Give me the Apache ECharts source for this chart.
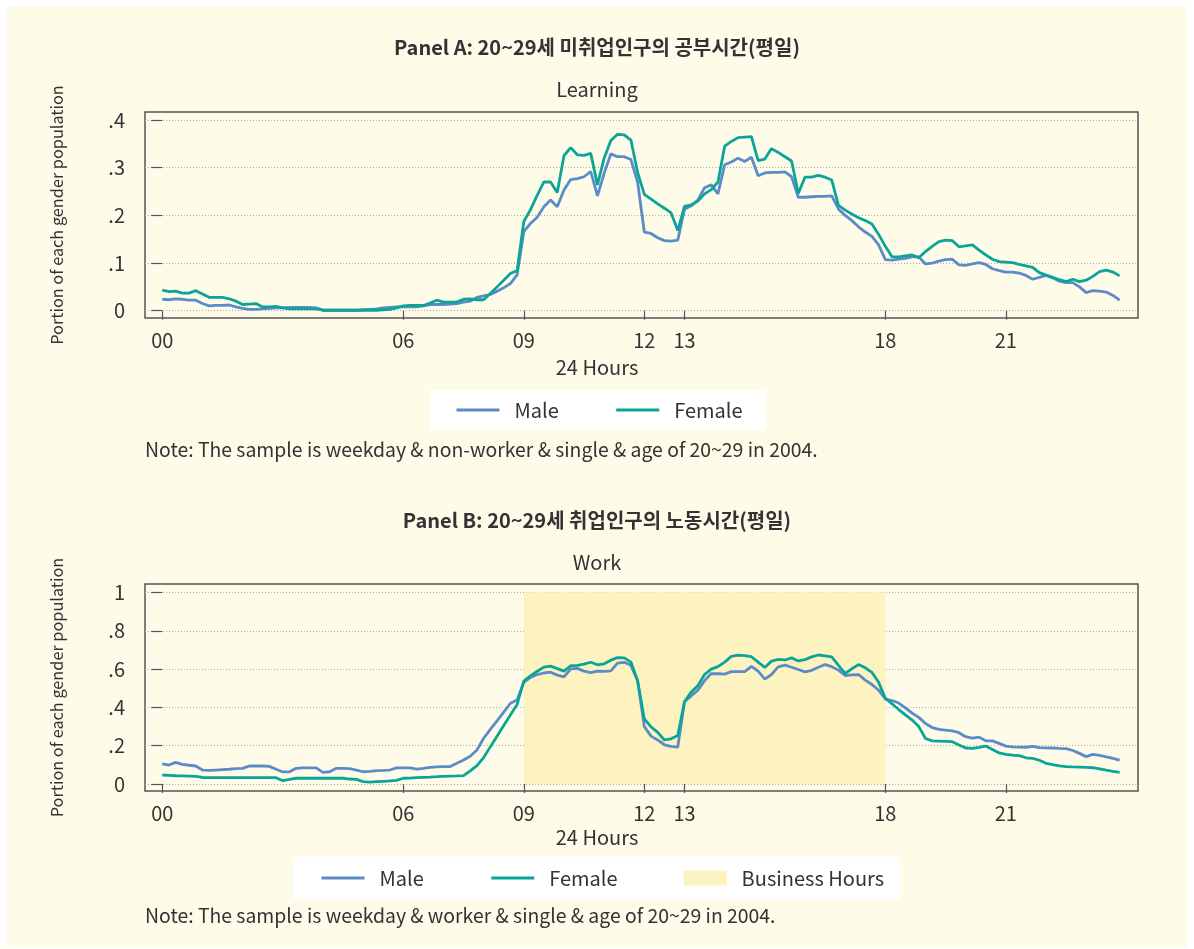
<!DOCTYPE html>
<html>
<head>
<meta charset="utf-8">
<script src="https://cdn.jsdelivr.net/npm/echarts@6/dist/echarts.min.js"></script>
<style>
  html, body { margin: 0; padding: 0; background: #fff; }
  #main { width: 1194px; height: 949px; }
</style>
</head>
<body>
<div id="main"></div>
<script>
// 10-minute time-use slots, 00:00 .. 23:50 (in hours)
const slots = []
for (let i = 0; i < 144; i++) slots.push(i / 6)

const hourTicks = [0, 6, 9, 12, 13, 18, 21]
const learnTicks = [0, 0.1, 0.2, 0.3, 0.4]
const workTicks = [0, 0.2, 0.4, 0.6, 0.8, 1]
const businessHours = [9, 18]

// Panel A: learning, 20~29 non-worker
const learnMale = [
  .024, .023, .025, .024, .022, .022,
  .015, .010, .011, .011, .012, .008,
  .005, .003, .003, .004, .005, .006,
  .006, .007, .007, .007, .007, .006,
  .001, .001, .001, .001, .001, .001,
  .002, .003, .004, .006, .007, .008,
  .008, .008, .008, .010, .013, .013,
  .013, .014, .015, .018, .020, .028,
  .031, .034, .041, .048, .057, .075,
  .166, .183, .196, .218, .232, .218,
  .253, .275, .277, .281, .292, .241,
  .288, .329, .323, .323, .317, .270,
  .165, .162, .153, .147, .146, .148,
  .213, .220, .232, .258, .264, .245,
  .306, .312, .320, .313, .322, .283,
  .289, .290, .290, .291, .281, .238,
  .238, .239, .240, .240, .241, .213,
  .200, .189, .176, .165, .156, .138,
  .107, .106, .108, .110, .113, .113,
  .098, .100, .104, .107, .108, .096,
  .095, .098, .101, .097, .088, .084,
  .081, .081, .079, .074, .066, .070,
  .074, .069, .062, .059, .059, .050,
  .038, .042, .041, .039, .032, .022
]
const learnFemale = [
  .043, .040, .041, .037, .037, .042,
  .035, .028, .028, .028, .025, .020,
  .013, .014, .015, .008, .008, .009,
  .006, .004, .004, .004, .004, .004,
  .001, .001, .001, .001, .001, .001,
  .001, .001, .001, .002, .003, .006,
  .010, .011, .011, .011, .016, .022,
  .018, .018, .018, .024, .025, .023,
  .023, .036, .050, .064, .078, .084,
  .187, .212, .242, .270, .270, .248,
  .325, .342, .327, .326, .330, .264,
  .320, .357, .370, .369, .358, .290,
  .244, .234, .224, .215, .205, .168,
  .219, .222, .230, .245, .254, .270,
  .345, .355, .363, .364, .365, .315,
  .318, .340, .332, .323, .314, .246,
  .280, .280, .284, .280, .274, .221,
  .211, .203, .195, .189, .182, .160,
  .135, .113, .113, .115, .117, .111,
  .124, .135, .145, .148, .147, .134,
  .136, .138, .127, .117, .108, .103,
  .102, .101, .097, .094, .091, .080,
  .075, .070, .065, .061, .066, .061,
  .064, .072, .082, .085, .081, .073
]

// Panel B: work, 20~29 worker
const workMale = [
  .105, .099, .113, .103, .098, .094,
  .073, .071, .073, .075, .077, .080,
  .082, .094, .094, .094, .092, .077,
  .063, .064, .082, .084, .084, .084,
  .061, .064, .082, .082, .080, .073,
  .064, .066, .070, .071, .073, .084,
  .084, .084, .078, .082, .087, .089,
  .091, .091, .108, .125, .145, .178,
  .239, .285, .330, .376, .422, .439,
  .531, .557, .572, .580, .584, .569,
  .560, .601, .604, .590, .582, .590,
  .588, .591, .632, .636, .620, .540,
  .300, .250, .230, .205, .197, .193,
  .430, .460, .490, .540, .577, .576,
  .574, .587, .587, .587, .615, .590,
  .548, .572, .612, .621, .610, .598,
  .586, .594, .610, .624, .613, .595,
  .567, .570, .572, .543, .520, .490,
  .444, .436, .423, .398, .370, .348,
  .316, .295, .285, .282, .278, .268,
  .247, .240, .245, .226, .225, .212,
  .198, .194, .193, .192, .197, .190,
  .189, .188, .186, .185, .175, .160,
  .143, .155, .150, .142, .134, .125
]
const workFemale = [
  .047, .045, .043, .042, .041, .040,
  .034, .033, .033, .033, .033, .033,
  .033, .033, .033, .033, .033, .033,
  .017, .024, .030, .030, .030, .030,
  .030, .030, .030, .030, .026, .024,
  .012, .010, .012, .014, .016, .019,
  .030, .031, .033, .035, .036, .038,
  .040, .041, .042, .044, .069, .096,
  .138, .194, .250, .305, .360, .416,
  .538, .565, .589, .611, .616, .603,
  .590, .618, .620, .626, .636, .623,
  .628, .647, .660, .659, .637, .540,
  .340, .298, .270, .230, .236, .254,
  .430, .480, .514, .572, .600, .613,
  .637, .667, .673, .671, .665, .637,
  .609, .642, .651, .648, .659, .643,
  .650, .664, .674, .670, .664, .620,
  .578, .602, .624, .607, .583, .532,
  .448, .419, .389, .361, .334, .300,
  .238, .225, .224, .223, .221, .204,
  .188, .186, .191, .198, .180, .162,
  .155, .151, .148, .137, .134, .124,
  .108, .101, .095, .091, .089, .088,
  .087, .085, .079, .072, .066, .061
]

const FONT = '"Noto Sans CJK KR", "Noto Sans", sans-serif'
const TXT = '#333'
const MALE = '#5b8cc8'
const FEMALE = '#0aa596'
const CREAM = '#fefbe8'
const BAND = '#fdf3c0'

const pairs = vals => vals.map((v, i) => [slots[i], v])
const yFmt = v => v === 0 ? '0' : String(+v.toFixed(2)).replace(/^0/, '')
const hFmt = v => (v < 10 ? '0' : '') + v

function xAxisFor(gridIndex){
    return {
        gridIndex: gridIndex,
        type: 'value',
        min: -0.43,
        max: 24.29,
        axisLine: { show: false },
        axisTick: { show: true, length: 9, customValues: hourTicks, lineStyle: { color: '#555', width: 1.2 } },
        axisLabel: { customValues: hourTicks, formatter: hFmt, margin: 12, fontFamily: FONT, fontSize: 20, color: TXT },
        splitLine: { show: false }
    }
}

function yAxisFor(gridIndex, min, max, ticks){
    return {
        gridIndex: gridIndex,
        type: 'value',
        min: min,
        max: max,
        name: 'Portion of each gender population',
        nameLocation: 'middle',
        nameGap: 80,
        nameTextStyle: { fontFamily: FONT, fontSize: 16.3, color: TXT },
        axisLine: { show: false },
        axisTick: { show: true, length: 11, customValues: ticks, lineStyle: { color: '#555', width: 1.2 } },
        axisLabel: { customValues: ticks, formatter: yFmt, margin: 20, fontFamily: FONT, fontSize: 20, color: TXT },
        splitLine: { show: true, lineStyle: { color: '#aaa', type: [1, 2], width: 1 } }
    }
}

function lineSeries(name, vals, color, idx){
    return {
        name: name,
        type: 'line',
        xAxisIndex: idx,
        yAxisIndex: idx,
        symbol: 'none',
        z: 3,
        data: pairs(vals),
        lineStyle: { color: color, width: 2.8 },
        itemStyle: { color: color }
    }
}

function txt(text, top, size, bold, left){
    return {
        text: text,
        left: left === undefined ? 'center' : left,
        top: top,
        padding: 0,
        textStyle: { fontFamily: FONT, fontSize: size, fontWeight: bold ? 'bold' : 'normal', color: TXT }
    }
}

const legendBase = {
    backgroundColor: '#fff',
    itemWidth: 43,
    itemHeight: 15,
    lineStyle: { width: 3 },
    textStyle: { fontFamily: FONT, fontSize: 20, color: TXT, padding: [0, 0, 0, 10] }
}
const noDot = { opacity: 0 }

const chart = echarts.init(document.getElementById('main'))

let option = {
    backgroundColor: '#fff',
    animation: false,
    graphic: [{
        type: 'rect',
        shape: { x: 7, y: 6, width: 1180, height: 942 },
        style: { fill: CREAM },
        z: -10
    }],
    title: [
        txt('Panel A: 20~29세 미취업인구의 공부시간(평일)', 37, 20, true),
        txt('Learning', 79, 20, false),
        txt('24 Hours', 357, 20, false),
        txt('Note: The sample is weekday & non-worker & single & age of 20~29 in 2004.', 440, 19.4, false, 145),
        txt('Panel B: 20~29세 취업인구의 노동시간(평일)', 510, 20, true),
        txt('Work', 552, 20, false),
        txt('24 Hours', 827, 20, false),
        txt('Note: The sample is weekday & worker & single & age of 20~29 in 2004.', 906, 19.4, false, 145)
    ],
    legend: [
        Object.assign({}, legendBase, {
            data: [{ name: 'Male', itemStyle: noDot }, { name: 'Female', itemStyle: noDot }],
            left: 430, top: 390,
            padding: [10, 23, 10, 25],
            itemGap: 56
        }),
        Object.assign({}, legendBase, {
            data: [{ name: 'Male', itemStyle: noDot }, { name: 'Female', itemStyle: noDot },
                   { name: 'Business Hours', icon: 'rect' }],
            left: 293, top: 857,
            padding: [11, 16, 11, 27],
            itemGap: 66
        })
    ],
    grid: [
        { left: 145, top: 112, width: 993, height: 206, show: true, backgroundColor: CREAM, borderColor: '#555', borderWidth: 1.5 },
        { left: 145, top: 584, width: 993, height: 207, show: true, backgroundColor: CREAM, borderColor: '#555', borderWidth: 1.5 }
    ],
    xAxis: [xAxisFor(0), xAxisFor(1)],
    yAxis: [
        yAxisFor(0, -0.0153, 0.4168, learnTicks),
        yAxisFor(1, -0.0366, 1.045, workTicks)
    ],
    series: [
        {
            name: 'Business Hours',
            type: 'bar',
            xAxisIndex: 1,
            yAxisIndex: 1,
            data: [],
            z: 1,
            itemStyle: { color: BAND },
            markArea: {
                silent: true,
                itemStyle: { color: BAND },
                data: [[{ xAxis: businessHours[0], yAxis: 0 }, { xAxis: businessHours[1], yAxis: 1 }]]
            }
        },
        lineSeries('Male', learnMale, MALE, 0),
        lineSeries('Female', learnFemale, FEMALE, 0),
        lineSeries('Male', workMale, MALE, 1),
        lineSeries('Female', workFemale, FEMALE, 1)
    ]
}

chart.setOption(option)
</script>
</body>
</html>
